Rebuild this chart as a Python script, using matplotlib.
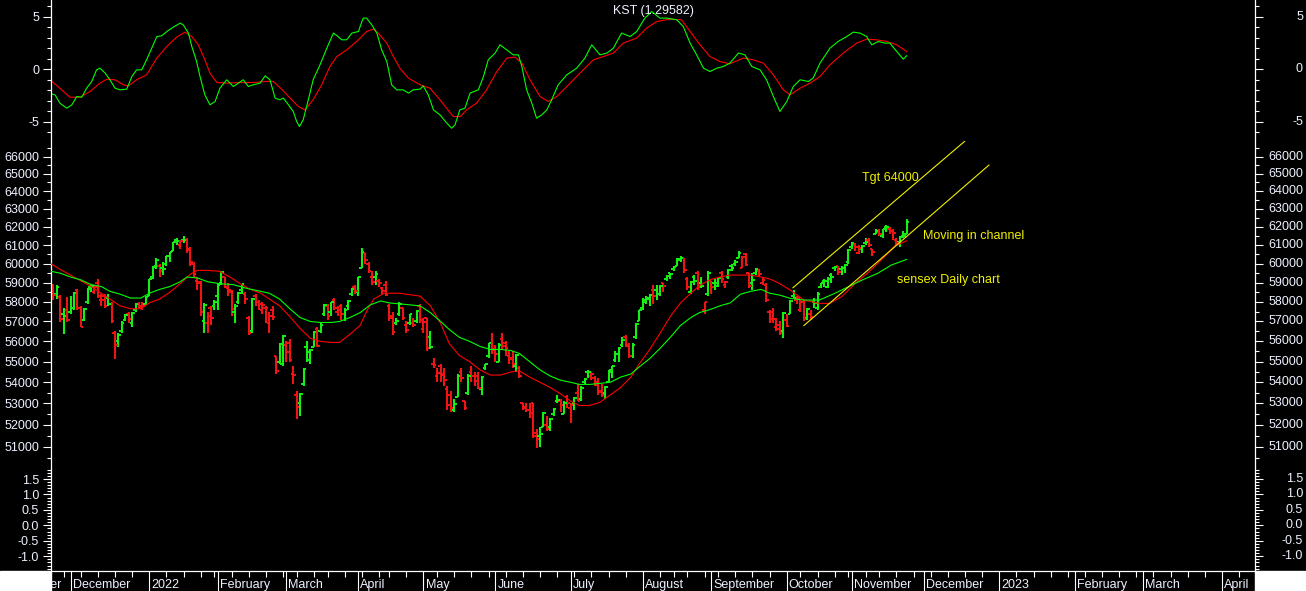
import numpy as np
import pandas as pd
import matplotlib
matplotlib.use("Agg")
import matplotlib.pyplot as plt
from matplotlib import transforms
from matplotlib.patches import Rectangle
from matplotlib.ticker import FixedLocator, FuncFormatter, NullFormatter

plt.rcParams['font.family'] = ['Liberation Sans', 'DejaVu Sans']
plt.rcParams['axes.unicode_minus'] = False

# ---------------- data ----------------
# exchange holidays (weekdays) up to the last bar; later dates are plain weekdays
holidays = ['2021-11-05', '2021-11-19', '2022-01-26', '2022-03-01', '2022-03-18',
            '2022-04-14', '2022-04-15', '2022-05-03', '2022-08-09', '2022-08-15',
            '2022-08-31', '2022-10-05', '2022-10-26', '2022-11-08']
first_bar = '2021-11-24'
last_bar = '2022-11-24'

# daily OHLC, Nov 24 2021 .. Nov 24 2022 (one row per month)
opens = [58850, 58420, 58250, 57400, 57600,
         57500, 57700, 58600, 57700, 57100, 58000, 58800, 58500, 59000, 58100, 58300, 58200, 57900, 56400, 56000, 56500, 57100, 57400, 56900, 57600, 57900, 57700, 57900,
         58300, 59300, 59900, 59900, 59800, 60000, 60400, 60700, 61300, 61000, 61300, 61300, 60800, 60000, 59100, 59000, 57000, 56900, 57700, 57800,
         58300, 59000, 59300, 58700, 58500, 57500, 58000, 58600, 58400, 57200, 56500, 58300, 58000, 57600, 57700, 56900, 57600, 55300, 55000, 54900,
         55800, 55900, 54400, 53400, 53000, 53900, 55700, 55100, 55700, 56600, 56500, 57400, 57800, 57500, 58100, 57500, 57800, 57400, 57800, 58400, 58800,
         58500, 59800, 60600, 60000, 59300, 59300, 59100, 58700, 58900, 57800, 57300, 56900, 57400, 57700, 56800, 56900, 56900, 57000, 57800,
         56600, 57200, 56200, 54900, 54300, 54800, 54400, 53700, 53400, 52700, 53300, 54500, 53100, 53500, 54500, 54300, 54300, 53700, 54700, 55300, 55900,
         55600, 55000, 56100, 55900, 55300, 55200, 54800, 54700, 53000, 52800, 52700, 53000, 51600, 51500, 51900, 52000, 51900, 52500, 53100, 53100, 52500, 53300,
         52800, 53000, 53500, 53200, 54000, 54500, 54300, 54200, 54000, 53600, 53500, 54000, 54600, 55100, 55400, 55800, 56200, 55800, 55300, 56200, 57000,
         57700, 58000, 58200, 58600, 58600, 58400, 59000, 59200, 59500, 59700, 59900, 60200, 60300, 59200, 58500, 59300, 59500, 59000, 57600, 58400,
         59100, 59000, 59000, 59500, 58900, 59300, 59900, 60000, 60300, 59800, 60500, 59500, 59000, 59500, 59600, 59000, 58900, 57500, 57500, 56700, 56800, 56500,
         57100, 57400, 58300, 58100, 57600, 58000, 57200, 57400, 58000, 57700, 58800, 59100, 58800, 59400, 59800, 59900, 59700, 59800, 60100,
         60900, 61000, 60600, 60800, 61100, 61300, 60800, 61600, 61700, 61500, 62000, 61900, 61800, 61300, 61200, 61500, 61600]
highs = [58950, 58900, 58350, 57700, 58250,
         58300, 58500, 58650, 57800, 57700, 58700, 58900, 58890, 59200, 58400, 58400, 58400, 58000, 56500, 56400, 57000, 57400, 57500, 57500, 57950, 58000, 58000, 58300,
         59200, 59900, 60300, 60000, 60100, 60400, 60650, 61200, 61400, 61300, 61475, 61400, 60900, 60100, 59300, 59100, 57960, 57500, 57800, 58100,
         59000, 59600, 59300, 59000, 58600, 57900, 58500, 58950, 58500, 57300, 58200, 58400, 58100, 58000, 57800, 57500, 57800, 55300, 55900, 56300,
         56000, 56100, 54800, 53600, 53500, 54700, 56000, 55600, 56500, 56700, 56900, 57900, 57900, 58000, 58200, 57800, 57900, 57700, 58100, 58700, 58900,
         59300, 60845, 60600, 60100, 59600, 59600, 59200, 58800, 59100, 57900, 57500, 57200, 58000, 57700, 57000, 57400, 57200, 57600, 57900,
         57200, 57200, 56500, 55200, 54700, 54900, 54700, 53800, 53600, 53200, 54400, 54700, 53100, 54400, 54800, 54500, 54500, 54300, 54900, 55900, 56400,
         55800, 55900, 56400, 56000, 55500, 55500, 55400, 54800, 53000, 53000, 53000, 53000, 51800, 51900, 52600, 52400, 52300, 52800, 53400, 53200, 53100, 53400,
         53000, 53300, 53900, 53800, 54200, 54600, 54500, 54300, 54200, 53900, 53800, 54600, 54800, 55500, 55700, 56200, 56300, 55900, 55900, 56900, 57600,
         58200, 58300, 58400, 58900, 58900, 58900, 59000, 59400, 59500, 59900, 60300, 60411, 60300, 59300, 59100, 59400, 59600, 59300, 58000, 59600,
         59100, 59200, 59300, 59600, 59100, 59700, 60000, 60200, 60676, 60400, 60600, 59500, 59500, 59800, 59700, 59300, 59000, 57600, 57700, 57200, 57000, 57500,
         57400, 58100, 58600, 58300, 58100, 58100, 57700, 57600, 58200, 58500, 59000, 59200, 59300, 59500, 59900, 59900, 59900, 60000, 60800,
         61200, 61100, 61000, 61000, 61400, 61400, 60800, 61900, 61900, 61900, 62100, 62000, 61900, 61400, 61500, 61800, 62448]
lows = [58100, 58150, 56990, 56382, 56990,
        57400, 57600, 57600, 56700, 57000, 57900, 58500, 58400, 58200, 57800, 57700, 57800, 56900, 55132, 55700, 56400, 57000, 56900, 56700, 57500, 57700, 57600, 57850,
        58300, 59200, 59700, 59300, 59400, 59900, 60100, 60700, 61000, 60800, 61100, 60600, 59900, 59300, 58600, 57300, 56400, 56440, 56800, 57600,
        57600, 58900, 58700, 58300, 57300, 56900, 57900, 58400, 57900, 56300, 56400, 57800, 57600, 57400, 56900, 56400, 57100, 54383, 54900, 54800,
        55000, 55000, 53900, 52260, 52400, 53800, 55000, 54900, 55700, 55700, 56400, 57300, 57100, 57300, 57600, 57300, 57100, 57000, 57600, 58300, 58400,
        58300, 59800, 60000, 59500, 58900, 58900, 58800, 58400, 58300, 57000, 56300, 56800, 57300, 57100, 56400, 56800, 56700, 56900, 56900,
        56400, 55500, 55600, 54700, 54000, 54000, 53800, 52700, 52600, 52600, 53300, 54000, 52700, 53400, 54000, 53800, 53700, 53400, 54600, 55200, 55400,
        55000, 55000, 55600, 55300, 54900, 54700, 54500, 54200, 52700, 52600, 52300, 51400, 50921, 51000, 51900, 51700, 51700, 52400, 53000, 52600, 52500, 52800,
        52100, 52700, 53100, 53100, 53900, 54200, 54100, 53800, 53400, 53300, 53200, 54000, 54200, 55000, 55000, 55700, 55700, 55200, 55200, 56100, 57000,
        57600, 57900, 57800, 57900, 58100, 58300, 58500, 59100, 59200, 59600, 59900, 60100, 59500, 58600, 58400, 58900, 58600, 58700, 57400, 58300,
        58400, 58600, 58800, 59000, 58700, 59200, 59600, 59900, 60300, 59800, 59900, 58700, 58600, 59400, 59300, 58900, 58000, 56900, 56900, 56500, 56300, 56147,
        56700, 57400, 58200, 57900, 57500, 57000, 57100, 57100, 57700, 57600, 58700, 58800, 58700, 59000, 59600, 59400, 59400, 59500, 60000,
        60800, 60700, 60500, 60600, 61000, 60900, 60400, 61600, 61500, 61400, 61700, 61600, 61300, 61000, 60900, 61400, 61600]
closes = [58340, 58795, 57107, 57260, 57065,
          57684, 58461, 57696, 56747, 57633, 58649, 58807, 58787, 58283, 58117, 57789, 57901, 57011, 55822, 56319, 56930, 57315, 57124, 57420, 57897, 57806, 57794, 58254,
          59183, 59855, 60223, 59601, 59744, 60395, 60617, 61150, 61235, 61223, 61309, 60755, 60098, 59464, 59037, 57491, 57858, 57276, 57200, 58014,
          58862, 59558, 58788, 58644, 57621, 57808, 58466, 58926, 58153, 56405, 58142, 57997, 57892, 57833, 57683, 57300, 57232, 54530, 55858, 56247,
          55469, 55102, 54334, 52843, 53424, 54647, 55464, 55550, 56486, 55777, 56816, 57864, 57292, 57989, 57685, 57596, 57362, 57593, 58044, 58684, 58569,
          59277, 60612, 60176, 59610, 59035, 59447, 58965, 58576, 58339, 57167, 56463, 57038, 57912, 57197, 56580, 57357, 56819, 57521, 57061,
          56976, 55669, 55702, 54836, 54471, 54365, 54088, 52930, 52794, 52974, 54318, 54209, 52792, 54326, 54289, 54053, 53749, 54253, 54885, 55926, 55566,
          55381, 55818, 55769, 55675, 55107, 54892, 55320, 54303, 52847, 52694, 52541, 51496, 51360, 51598, 52532, 51823, 52266, 52728, 53161, 52907, 53027, 53019,
          52908, 53235, 53134, 53750, 54178, 54482, 54395, 53887, 53514, 53416, 53761, 54521, 54768, 55398, 55682, 56072, 55767, 55268, 55817, 56858, 57570,
          58116, 58137, 58351, 58299, 58388, 58853, 58817, 59333, 59463, 59843, 60260, 60298, 59646, 58774, 59032, 59085, 58775, 58834, 57973, 59537,
          58767, 58803, 59246, 59197, 59029, 59689, 59794, 60115, 60571, 60347, 59934, 58841, 59141, 59720, 59457, 59120, 58099, 57145, 57108, 56598, 56410, 57427,
          56789, 58065, 58222, 58191, 57991, 57147, 57626, 57235, 57920, 58411, 58960, 59107, 59203, 59307, 59831, 59544, 59757, 59960, 60747,
          61121, 60906, 60836, 60950, 61185, 61033, 60614, 61795, 61625, 61873, 61981, 61751, 61663, 61145, 61419, 61511, 62273]

# moving averages (x = trading days from Dec 1 2021)
ma_fast_x = [-5.7, -3, 0, 3, 6, 9, 11.5, 14.5, 17.5, 20.5, 23, 26, 29, 32, 35, 37, 40, 43.5, 46.5, 49.5,
             52.5, 55.5, 58, 61, 64, 67, 70, 73, 76, 78.5, 81.5, 84.5, 86.5, 88.5, 91.5, 96, 102, 105, 108, 110.5,
             113.5, 116.5, 119.5, 122.5, 125.5, 128.5, 131, 134, 137, 140, 143, 146, 148.5, 151.5, 154.5, 157.5, 160.5, 163.5, 166, 169,
             172, 175, 178, 181, 183.5, 186.5, 189.5, 192.5, 195.5, 198.5, 201.5, 204, 207, 210, 214, 218.5, 221.5, 225, 229, 233,
             237.5, 240.5, 244]
ma_fast = [60000, 59700, 59400, 59100, 58800, 58450, 58150, 57800, 57650, 57650, 57950, 58150, 58500, 58950, 59450, 59650, 59650, 59600, 59300, 58950,
           58650, 58450, 58150, 57800, 57250, 56650, 56150, 56000, 55950, 55950, 56350, 56800, 57550, 58150, 58450, 58450, 58300, 57800, 56900, 55900,
           55300, 55000, 54600, 54350, 54350, 54500, 54550, 54250, 54000, 53750, 53450, 53100, 52900, 52900, 53050, 53400, 53750, 54250, 54900, 55600,
           56400, 57250, 57950, 58450, 58850, 59150, 59300, 59400, 59400, 59400, 59300, 59200, 58950, 58615, 58096, 57926, 57926, 58267, 58965, 59576,
           60376, 60953, 61241]
ma_slow_x = [-5.7, -3, 0, 3, 6, 9, 11.5, 14.5, 17.5, 20.5, 23, 26, 29, 32, 34, 37, 40, 43.5, 47.5, 51.5,
             55.5, 58, 61, 64, 67, 70, 73, 76, 78.5, 81.5, 84.5, 87.5, 90.5, 93, 96, 102, 105, 108, 110.5, 113.5,
             116.5, 119.5, 122.5, 125.5, 128.5, 131, 134, 137, 140, 143, 146, 148.5, 151.5, 154.5, 157.5, 160.5, 163.5, 166, 169, 172,
             175, 178, 181, 183.5, 186.5, 189.5, 192.5, 195.5, 198.5, 201.5, 204, 207, 210, 214, 218.5, 223, 227, 231, 235.5, 239.5,
             244]
ma_slow = [59600, 59500, 59300, 59150, 58900, 58800, 58550, 58400, 58200, 58200, 58450, 58650, 58800, 59050, 59300, 59250, 59050, 58950, 58900, 58700,
           58550, 58450, 58150, 57650, 57200, 57000, 56950, 56950, 57000, 57200, 57450, 57850, 58050, 57950, 57900, 57800, 57450, 57000, 56600, 56200,
           56000, 55750, 55600, 55600, 55550, 55400, 55000, 54600, 54300, 54100, 54000, 53900, 53900, 53950, 54000, 54250, 54400, 54750, 55150, 55650,
           56200, 56800, 57200, 57450, 57600, 57800, 57950, 58400, 58550, 58650, 58450, 58350, 58184, 58096, 58096, 58443, 58787, 59140, 59490, 59931,
           60236]

# KST and its signal line
kst_x = [-5.7, -4.5, -3.1, -1.1, 0.4, 1.8, 3.3, 4.7, 6.2, 7.6, 8.6, 10.1, 11.5, 13.0, 14.4, 16.4, 17.9, 19.3, 20.8, 22.2,
         23.7, 25.2, 26.6, 28.1, 30.0, 32.0, 32.9, 34.4, 35.4, 36.8, 37.8, 39.2, 40.7, 42.2, 43.6, 45.6, 47.5, 49.0, 50.4, 51.9,
         53.3, 55.3, 56.8, 58.2, 59.7, 61.1, 62.1, 63.6, 65.0, 66.0, 66.8, 67.9, 69.4, 70.8, 72.8, 74.8, 76.7, 78.1, 79.1, 80.6,
         82.1, 84.0, 85.4, 86.4, 87.9, 89.4, 90.8, 92.3, 93.7, 95.2, 97.1, 98.6, 100.0, 102.0, 102.9, 104.4, 105.9, 107.8, 109.8, 111.2,
         112.2, 113.6, 115.1, 116.6, 119.0, 120.5, 121.9, 123.9, 125.3, 127.3, 129.2, 130.7, 131.7, 133.1, 134.6, 136.0, 137.5, 139.0, 140.4, 142.3,
         144.8, 147.7, 150.1, 152.1, 154.5, 156.5, 158.4, 160.8, 163.3, 165.2, 167.6, 169.6, 172.0, 174.0, 176.9, 178.8, 180.8, 182.7, 184.7, 186.6,
         188.6, 190.5, 192.4, 194.9, 196.8, 198.8, 201.2, 203.1, 205.1, 207.0, 209.0, 210.9, 212.9, 215.3, 216.7, 218.7, 221.6, 224.0, 226.5, 228.4,
         230.4, 232.3, 233.8, 235.7, 237.7, 239.1, 241.1, 243.0, 244.0]
kst = [-2.34, -2.44, -3.23, -3.71, -3.39, -2.60, -2.66, -1.80, -1.16, -0.05, 0.11, -0.36, -1.00, -1.80, -1.96, -1.89, -0.69, -0.05, -0.05, 0.91,
       2.02, 3.13, 3.20, 3.61, 4.03, 4.41, 4.25, 3.46, 2.18, 0.74, -0.69, -2.44, -3.39, -3.07, -1.80, -1.00, -1.64, -1.32, -1.00, -1.64,
       -1.48, -1.32, -0.62, -1.00, -2.75, -2.91, -2.75, -3.39, -4.03, -4.99, -5.46, -4.82, -2.91, -1.00, 0.43, 2.02, 3.46, 3.13, 2.82, 2.82,
       3.46, 3.61, 4.89, 4.89, 4.25, 3.46, 1.86, 0.74, -1.48, -1.96, -1.96, -2.27, -1.96, -1.89, -1.58, -2.44, -3.87, -4.35, -5.14, -5.62,
       -5.30, -3.87, -3.71, -2.27, -1.96, -0.69, 0.91, 1.55, 2.34, 1.86, 1.38, 1.38, 0.27, -1.96, -3.23, -4.66, -4.35, -3.87, -2.91, -1.48,
       -0.53, 0.11, 1.07, 2.34, 1.38, 1.55, 2.02, 3.46, 3.13, 3.61, 4.89, 5.52, 4.89, 4.89, 4.73, 4.09, 2.50, 1.38, 0.11, -0.21,
       0.11, 0.27, 0.59, 1.55, 1.38, 0.27, -0.05, -1.00, -2.60, -4.03, -3.07, -1.64, -1.00, -1.16, -0.84, 0.59, 2.02, 2.66, 3.13, 3.55,
       3.46, 3.13, 2.34, 2.66, 2.50, 2.50, 1.70, 0.97, 1.30]
sig_x = [-5.7, -3.1, -0.2, 2.8, 5.7, 8.6, 10.6, 13.0, 15.4, 16.9, 19.3, 22.2, 25.2, 28.1, 31.0, 33.4, 35.4, 37.3, 39.2, 40.7,
         42.7, 45.6, 49.5, 53.3, 57.3, 59.2, 61.6, 64.1, 66.5, 68.4, 70.8, 73.3, 75.7, 77.7, 80.6, 83.5, 86.4, 88.4, 89.8, 92.3,
         94.2, 96.1, 98.6, 102.0, 104.9, 107.8, 111.7, 113.7, 115.6, 118.5, 121.4, 124.4, 127.3, 129.7, 131.7, 134.1, 137.0, 139.4, 141.9, 145.8,
         149.6, 152.6, 155.5, 158.4, 161.3, 165.2, 168.1, 171.1, 174.9, 178.3, 180.8, 183.7, 186.6, 189.5, 192.4, 196.3, 199.2, 202.2, 205.1, 208.0,
         210.0, 212.9, 215.8, 218.7, 221.6, 225.5, 229.4, 232.3, 235.2, 238.2, 241.1, 244.0]
sig = [-1.07, -1.80, -2.66, -2.66, -2.12, -1.32, -0.94, -1.00, -1.48, -1.58, -1.00, -0.53, 1.07, 2.18, 3.08, 3.55, 3.13, 2.34, 0.91, -0.36,
       -1.26, -1.32, -1.26, -1.26, -1.16, -1.16, -1.89, -2.75, -3.55, -3.87, -2.91, -1.48, 0.27, 1.22, 1.86, 2.66, 3.61, 3.84, 3.46, 2.50,
       1.22, 0.11, -0.84, -1.48, -1.80, -2.91, -4.51, -4.51, -3.87, -3.23, -1.96, -0.21, 1.07, 1.17, 0.59, -1.00, -2.60, -3.07, -2.60, -1.32,
       -0.05, 0.91, 1.22, 1.55, 2.50, 2.98, 3.93, 4.57, 4.79, 4.73, 3.61, 2.34, 1.22, 0.74, 0.53, 1.07, 0.91, 0.59, -0.53, -1.96,
       -2.44, -1.80, -1.32, -0.69, 0.43, 1.55, 2.50, 2.88, 2.82, 2.66, 2.34, 1.70]

# trend channel (x in trading days, y in index points)
chan_up_x, chan_up_y = [210.8, 260.9], [58735, 66898]
chan_lo_x, chan_lo_y = [214.0, 268.0], [56794, 65502]

# ---------------- calendar / x positions ----------------
days = pd.bdate_range('2021-11-01', '2023-04-28')
days = days[~days.isin(pd.to_datetime(holidays))]
pos = np.arange(len(days)) - days.get_loc(pd.Timestamp('2021-12-01'))
bar_x = pos[(days >= first_bar) & (days <= last_bar)]

mkey = np.asarray(days.year * 12 + days.month)
month_start = np.r_[True, mkey[1:] != mkey[:-1]]
iso = days.isocalendar()
wkey = np.asarray(iso['year'] * 100 + iso['week'])
week_start = np.r_[True, wkey[1:] != wkey[:-1]] & ~month_start
month_lbl = ['%d' % d.year if d.month == 1 else d.strftime('%B') for d in days[month_start]]

opens, highs, lows, closes = map(np.array, (opens, highs, lows, closes))
prev = np.r_[opens[0], closes[:-1]]
GREEN, RED = '#14f014', '#f01414'
bar_col = np.where(closes >= prev, GREEN, RED)

# ---------------- figure ----------------
W, H = 1306, 591
TXT = '#eef2ff'
YEL = '#f0f000'
x_lo, x_hi = -5.69, 345.63

fig = plt.figure(figsize=(W / 100, H / 100), dpi=100, facecolor='black')


def panel(top, bottom):
    ax = fig.add_axes([51 / W, 1 - bottom / H, 1204 / W, (bottom - top) / H])
    ax.set_facecolor('black')
    ax.set_xlim(x_lo, x_hi)
    ax.set_xticks([])
    for s in ('top', 'bottom'):
        ax.spines[s].set_visible(False)
    for s in ('left', 'right'):
        ax.spines[s].set_color('white')
        ax.spines[s].set_linewidth(0.9)
    ax.tick_params(axis='y', which='both', left=True, right=True, direction='out',
                   color='white', width=0.8, labelcolor=TXT, labelsize=9)
    ax.tick_params(axis='y', which='major', length=5.5, pad=3)
    ax.tick_params(axis='y', which='minor', length=3)
    return ax


def right_labels(ax, vals, fmt):
    tr = transforms.blended_transform_factory(fig.transFigure, ax.transData)
    for v in vals:
        ax.text(1303 / W, v, fmt % v, transform=tr, ha='right', va='center',
                color=TXT, fontsize=9, clip_on=False)


# KST panel
ax_k = panel(0, 140)
ax_k.set_ylim(-6.75, 6.62)
ax_k.plot(sig_x, sig, color='#ff0000', lw=0.8)
ax_k.plot(kst_x, kst, color='#00ff00', lw=0.8)
kst_major = [-5, 0, 5]
ax_k.yaxis.set_major_locator(FixedLocator(kst_major))
ax_k.yaxis.set_minor_locator(FixedLocator(range(-6, 7)))
ax_k.yaxis.set_major_formatter(FuncFormatter(lambda v, p: '%d' % v))
right_labels(ax_k, kst_major, '%d')
fig.text(653 / W, 1 - 11 / H, 'KST (1.29582)', color=TXT, fontsize=9, ha='center', va='center')

# price panel
ax_p = panel(141, 467)
ax_p.set_yscale('log')
ax_p.set_ylim(50085, 66919)
price_major = list(range(51000, 67000, 1000))
ax_p.yaxis.set_major_locator(FixedLocator(price_major))
ax_p.yaxis.set_minor_locator(FixedLocator(range(50500, 67000, 1000)))
ax_p.yaxis.set_major_formatter(FuncFormatter(lambda v, p: '%d' % round(v)))
ax_p.yaxis.set_minor_formatter(NullFormatter())
right_labels(ax_p, price_major, '%d')

ax_p.plot(ma_fast_x, ma_fast, color='#ff0000', lw=0.8, zorder=3)
ax_p.plot(ma_slow_x, ma_slow, color='#00ff00', lw=0.8, zorder=3)
ax_p.vlines(bar_x, lows, highs, colors=bar_col, lw=1.5, zorder=2)
ax_p.hlines(opens, bar_x - 0.75, bar_x, colors=bar_col, lw=1.4, zorder=2)
ax_p.hlines(closes, bar_x, bar_x + 0.75, colors=bar_col, lw=1.4, zorder=2)
ax_p.plot(chan_up_x, chan_up_y, color=YEL, lw=0.8, zorder=4)
ax_p.plot(chan_lo_x, chan_lo_y, color=YEL, lw=0.8, zorder=4)
ax_p.text(231.0, 64733, 'Tgt 64000', color=YEL, fontsize=9, va='center')
ax_p.text(248.8, 61497, 'Moving in channel', color=YEL, fontsize=9, va='center')
ax_p.text(241.1, 59138, 'sensex Daily chart', color=YEL, fontsize=9, va='center')

# empty lower panel
ax_b = panel(468, 571)
ax_b.set_ylim(-1.476, 1.856)
low_major = [-1.0, -0.5, 0.0, 0.5, 1.0, 1.5]
ax_b.yaxis.set_major_locator(FixedLocator(low_major))
ax_b.yaxis.set_minor_locator(FixedLocator(np.round(np.arange(-1.4, 1.85, 0.1), 1)))
ax_b.yaxis.set_major_formatter(FuncFormatter(lambda v, p: '%.1f' % v))
right_labels(ax_b, low_major, '%.1f')

# date strip
ax_d = fig.add_axes([51 / W, 0, 1204 / W, 20 / H])
ax_d.set_facecolor('black')
ax_d.set_xlim(x_lo, x_hi)
ax_d.set_ylim(0, 1)
ax_d.set_xticks([])
ax_d.set_yticks([])
for s in ('left', 'right', 'bottom'):
    ax_d.spines[s].set_visible(False)
ax_d.spines['top'].set_color('white')
ax_d.spines['top'].set_linewidth(0.9)
ax_d.vlines(pos[month_start], 0, 1, color='white', lw=0.8)
ax_d.vlines(pos[week_start], 0.7, 1, color='white', lw=0.8)
for p, lbl in zip(pos[month_start], month_lbl):
    ax_d.text(p + 0.6, 0.3, lbl, color=TXT, fontsize=9, ha='left', va='center', clip_on=True)

# white corners under the axis label columns
fig.patches.append(Rectangle((0, 0), 51 / W, 20 / H, transform=fig.transFigure, color='white'))
fig.patches.append(Rectangle((1255 / W, 0), 51 / W, 20 / H, transform=fig.transFigure, color='white'))

fig.savefig('out.png', dpi=100, facecolor='black')
